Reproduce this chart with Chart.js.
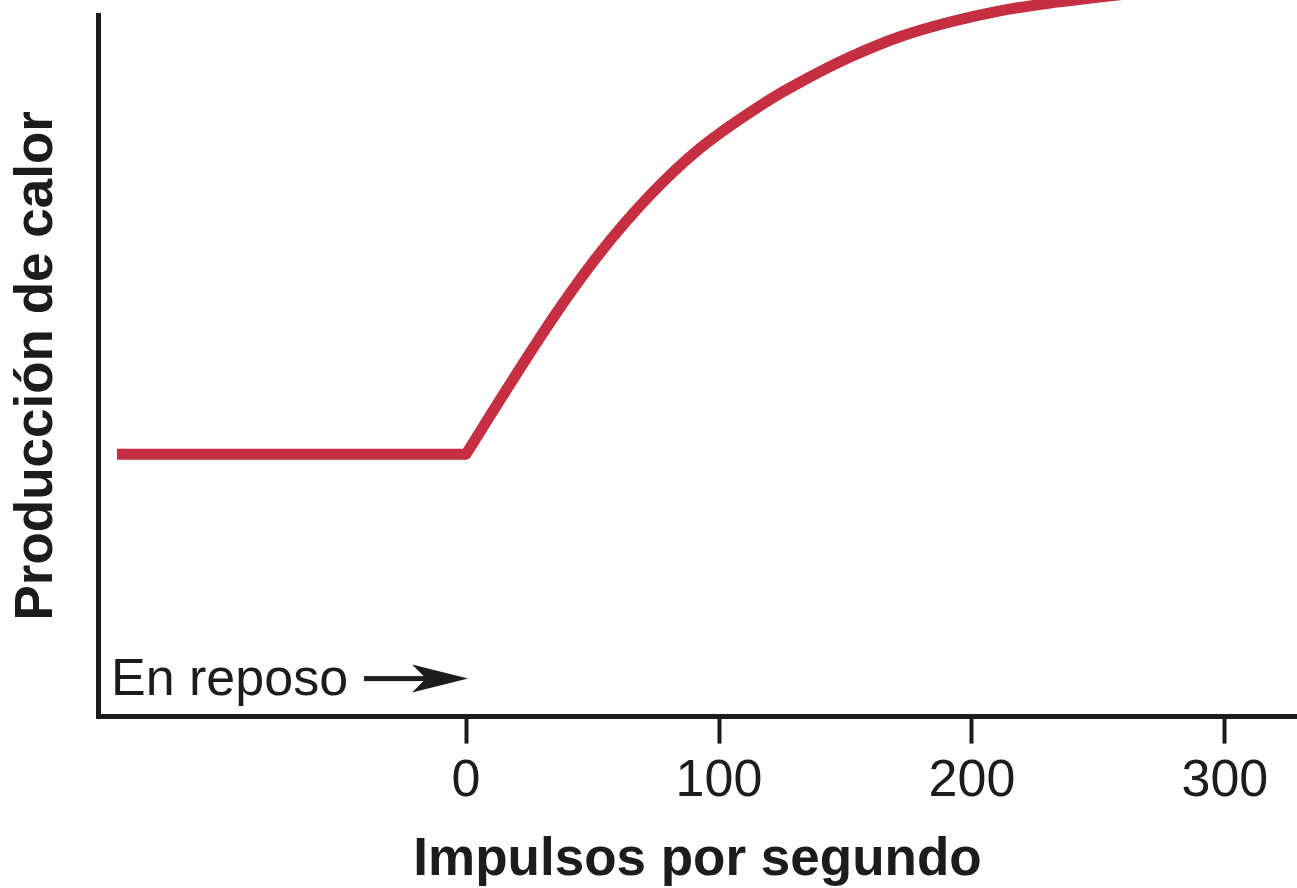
<!DOCTYPE html>
<html>
<head>
<meta charset="utf-8">
<script src="https://cdn.jsdelivr.net/npm/chart.js@4/dist/chart.umd.min.js"></script>
<style>
  html, body { margin: 0; padding: 0; background: #fff; }
  #wrap { width: 1297px; height: 888px; }
</style>
</head>
<body>
<div id="wrap"><canvas id="chart"></canvas></div>
<script>
// Data (y has no scale: arbitrary units 0-100)
const restX = [-138, 0];
const restY = [37.4, 37.4];
const curveX = [0, 9.5, 20.2, 36, 53, 72.7, 92.5, 119, 132, 151.8, 171.5, 191.3, 211.1, 237.5, 270.4, 328.5];
const curveY = [37.4, 42.9, 49.0, 57.7, 66.1, 74.3, 81.0, 87.7, 90.4, 94.0, 96.9, 99.0, 100.6, 102.0, 103.3, 104.7];
const tickValues = [0, 100, 200, 300];
const restLabel = 'En reposo';

const lineColor = '#c62f42';
const inkColor = '#1c1c1c';
const fontFamily = '"Liberation Sans", Arial, Helvetica, sans-serif';

// "En reposo ->" note pointing at 0 impulses
const restNote = {
    id: 'restNote',
    afterDraw(chart) {
        const {ctx, chartArea, scales} = chart;
        const baseY = chartArea.bottom - 22;
        const midY = baseY - 16;
        const tipX = scales.x.getPixelForValue(0) + 2;
        ctx.save();
        ctx.fillStyle = inkColor;
        ctx.font = '52px ' + fontFamily;
        ctx.textBaseline = 'alphabetic';
        ctx.fillText(restLabel, chartArea.left + 13, baseY);
        // shaft
        ctx.fillRect(tipX - 104, midY - 2.5, 70, 5);
        // head
        ctx.beginPath();
        ctx.moveTo(tipX, midY);
        ctx.lineTo(tipX - 56, midY - 14);
        ctx.lineTo(tipX - 42, midY);
        ctx.lineTo(tipX - 56, midY + 14);
        ctx.closePath();
        ctx.fill();
        ctx.restore();
    }
};

const ctx = document.getElementById('chart').getContext('2d');
new Chart(ctx, {
    type: 'line',
    data: {
        datasets: [{
            label: 'Reposo',
            data: restX.map((x, i) => ({x: x, y: restY[i]})),
            borderColor: lineColor,
            borderWidth: 11,
            borderCapStyle: 'butt',
            pointRadius: 0,
            tension: 0,
            clip: false
        }, {
            label: 'Respuesta',
            data: curveX.map((x, i) => ({x: x, y: curveY[i]})),
            borderColor: lineColor,
            borderWidth: 11,
            borderCapStyle: 'round',
            pointRadius: 0,
            cubicInterpolationMode: 'monotone',
            clip: false
        }]
    },
    options: {
        responsive: true,
        maintainAspectRatio: false,
        animation: false,
        layout: {
            padding: {top: 15, right: 0, bottom: 0, left: 0}
        },
        plugins: {
            legend: {display: false},
            tooltip: {enabled: false}
        },
        scales: {
            x: {
                type: 'linear',
                min: -145.5,
                max: 328.5,
                afterBuildTicks: (scale) => {
                    scale.ticks = tickValues.map(v => ({value: v}));
                },
                grid: {
                    display: true,
                    drawOnChartArea: false,
                    drawTicks: true,
                    tickLength: 27,
                    tickWidth: 4,
                    tickColor: inkColor
                },
                border: {display: true, color: inkColor, width: 5},
                ticks: {
                    color: inkColor,
                    padding: 7,
                    autoSkip: false,
                    maxRotation: 0,
                    font: {family: fontFamily, size: 52}
                },
                title: {
                    display: true,
                    text: 'Impulsos por segundo',
                    color: inkColor,
                    font: {family: fontFamily, size: 53, weight: 'bold', lineHeight: 1},
                    padding: {top: 14, bottom: 1}
                }
            },
            y: {
                min: 0,
                max: 100,
                grid: {display: false, drawTicks: false},
                border: {display: true, color: inkColor, width: 5},
                ticks: {display: false},
                title: {
                    display: true,
                    text: 'Producción de calor',
                    color: inkColor,
                    font: {family: fontFamily, size: 53, weight: 'bold', lineHeight: 1},
                    padding: {top: 10.5, bottom: 34.5}
                }
            }
        }
    },
    plugins: [restNote]
});
</script>
</body>
</html>
